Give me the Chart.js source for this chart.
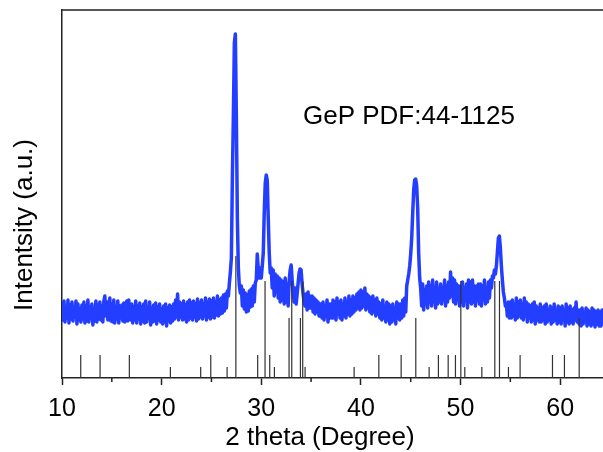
<!DOCTYPE html>
<html>
<head>
<meta charset="utf-8">
<script src="https://cdn.jsdelivr.net/npm/chart.js@4/dist/chart.umd.min.js"></script>
<style>
  html, body { margin: 0; padding: 0; background: #fff; }
  canvas { display: block; }
</style>
</head>
<body>
<canvas id="xrd" width="603" height="452"></canvas>
<script>
// measured pattern, one value every 0.1 degree from 10.0 to 64.3
const thetaStart = 10;
const thetaStep = 0.1;
const intensity = [
  74,58,77,56,71,60,78,55,73,59,   // 10
  76,57,70,61,77,54,74,58,69,56,   // 11
  73,59,76,55,72,57,78,56,71,60,   // 12
  74,53,69,57,77,56,73,59,76,58,   // 13
  72,56,77,82,62,76,58,73,80,57,   // 14
  74,56,78,55,71,59,77,55,72,60,   // 15
  73,57,75,56,70,77,57,78,60,58,   // 16
  74,55,71,58,77,55,72,59,75,54,   // 17
  71,57,74,55,77,56,70,60,76,53,   // 18
  70,56,73,57,75,54,71,58,74,56,   // 19
  69,54,72,56,74,52,70,57,73,55,   // 20
  71,57,74,59,78,61,84,58,76,61,   // 21
  74,58,77,59,73,56,76,58,78,60,   // 22
  75,58,77,61,74,57,79,59,75,61,   // 23
  78,59,74,62,80,58,76,61,79,59,   // 24
  77,61,80,60,76,63,82,62,78,64,   // 25
  80,65,83,67,84,70,87,82,95,106,  // 26
  120,200,262,335,344,262,160,110,92,85, // 27
  92,72,88,69,85,66,83,67,87,71,   // 28
  89,72,92,76,95,98,124,108,100,110, // 29
  100,112,125,165,195,203,198,160,125,105, // 30
  110,90,108,82,104,86,102,80,100,76, // 31
  98,78,96,74,100,76,94,72,97,108, // 32
  113,98,86,76,90,74,84,95,105,109, // 33
  108,94,84,76,72,84,68,86,70,82,  // 34
  70,82,66,80,64,78,66,76,62,74,   // 35
  74,60,76,58,72,62,78,56,74,60,   // 36
  74,60,78,62,76,58,80,64,76,60,   // 37
  78,58,74,62,80,60,76,64,82,62,   // 38
  78,64,82,66,80,68,84,70,86,68,   // 39
  88,70,86,72,90,68,84,70,82,66,   // 40
  80,64,82,66,78,62,80,64,76,60,   // 41
  74,58,78,60,72,56,76,58,74,54,   // 42
  72,56,74,58,70,54,76,60,74,58,   // 43
  74,60,78,62,80,66,92,98,104,112, // 44
  124,140,165,188,198,199,192,170,125,100, // 45
  90,72,94,68,88,74,92,70,96,76,   // 46
  92,72,98,76,90,70,96,74,88,76,   // 47
  94,74,90,78,98,72,92,76,96,80,   // 48
  106,82,100,76,98,74,94,78,92,72, // 49
  92,76,96,72,90,78,94,70,98,76,   // 50
  96,74,98,76,92,72,92,78,94,74,   // 51
  94,72,92,78,98,74,90,76,96,80,   // 52
  98,90,102,100,108,104,112,126,140,142, // 53
  130,112,98,86,80,72,74,62,76,60, // 54
  76,60,78,62,74,58,80,60,76,62,   // 55
  78,60,74,58,80,62,76,56,74,60,   // 56
  72,56,74,58,76,54,72,58,70,56,   // 57
  74,56,70,58,72,54,74,56,68,58,   // 58
  72,54,70,56,74,58,68,54,72,56,   // 59
  70,54,72,58,68,52,74,56,70,54,   // 60
  72,56,68,54,70,58,76,56,68,54,   // 61
  68,52,70,54,66,56,70,52,68,54,   // 62
  66,52,70,54,68,51,66,54,68,52,   // 63
  66,52,68,54                      // 64.0 - 64.3
];

// GeP reference lines (PDF 44-1125)
const refPositions = [11.88, 13.82, 16.76, 20.88, 23.92, 24.93, 26.57, 27.45, 29.64, 30.38,
  30.85, 31.32, 32.79, 33.06, 33.93, 34.16, 34.40, 39.32, 41.80, 44.04,
  45.51, 46.85, 47.78, 48.76, 49.49, 50.03, 50.43, 52.14, 53.44, 53.91,
  54.81, 55.98, 59.23, 60.43, 61.91];
const refHeights = [23, 23, 23, 11, 11, 23, 11, 122, 23, 97,
  23, 11, 60, 97, 60, 97, 11, 11, 23, 23,
  60, 11, 23, 23, 23, 97, 11, 11, 97, 97,
  11, 23, 23, 23, 60];

const majorTicks = [10, 20, 30, 40, 50, 60];
const minorTicks = [15, 25, 35, 45, 55];

const FONT = "'Liberation Sans', Arial, Helvetica, sans-serif";
const AXIS = '#222';

const patternData = intensity.map((v, i) => ({ x: +(thetaStart + i * thetaStep).toFixed(1), y: v }));

const stickData = [];
refPositions.forEach((p, i) => {
  stickData.push({ x: p, y: 0 }, { x: p, y: refHeights[i] }, { x: p, y: null });
});

// top frame line, minor ticks and the free texts
const decorations = {
  id: 'decorations',
  afterDraw(chart) {
    const { ctx, chartArea } = chart;
    const xs = chart.scales.x;
    ctx.save();
    ctx.strokeStyle = AXIS;
    ctx.lineWidth = 1.5;
    ctx.beginPath();
    ctx.moveTo(chartArea.left - 0.75, chartArea.top);
    ctx.lineTo(chartArea.right, chartArea.top);
    minorTicks.forEach(v => {
      const px = xs.getPixelForValue(v);
      ctx.moveTo(px, chartArea.bottom);
      ctx.lineTo(px, chartArea.bottom + 4);
    });
    ctx.stroke();

    ctx.fillStyle = '#000';
    ctx.font = '26px ' + FONT;
    ctx.textBaseline = 'alphabetic';
    ctx.textAlign = 'left';
    ctx.fillText('GeP PDF:44-1125', 303, 124);

    ctx.textAlign = 'center';
    ctx.fillText('2 theta (Degree)', 320, 445);

    ctx.translate(32, 225);
    ctx.rotate(-Math.PI / 2);
    ctx.fillText('Intentsity (a.u.)', 0, 0);
    ctx.restore();
  }
};

new Chart(document.getElementById('xrd'), {
  type: 'scatter',
  data: {
    datasets: [
      {
        label: 'PDF 44-1125',
        data: stickData,
        showLine: true,
        spanGaps: false,
        borderColor: '#333',
        borderWidth: 1.2,
        pointRadius: 0,
        order: 0
      },
      {
        label: 'GeP',
        data: patternData,
        showLine: true,
        borderColor: 'rgb(36,62,255)',
        borderWidth: 3.5,
        borderJoinStyle: 'round',
        borderCapStyle: 'round',
        pointRadius: 0,
        tension: 0,
        order: 1
      }
    ]
  },
  options: {
    responsive: false,
    animation: false,
    devicePixelRatio: 1,
    layout: { padding: { left: 62, top: 10, right: 0, bottom: 0 } },
    plugins: {
      legend: { display: false },
      tooltip: { enabled: false },
      title: { display: false }
    },
    scales: {
      x: {
        type: 'linear',
        min: 10,
        max: 64.3,
        afterBuildTicks: s => { s.ticks = majorTicks.map(v => ({ value: v })); },
        afterFit: s => { s.height = 74; },
        ticks: {
          color: '#000',
          padding: 9,
          maxRotation: 0,
          font: { family: FONT, size: 25 }
        },
        grid: {
          drawOnChartArea: false,
          drawTicks: true,
          tickLength: 7,
          tickColor: AXIS,
          tickWidth: 1.5
        },
        border: { display: true, color: AXIS, width: 1.5 }
      },
      y: {
        min: 0,
        max: 368,
        afterFit: s => { s.width = 0; },
        ticks: { display: false },
        grid: { display: false, drawTicks: false },
        border: { display: true, color: AXIS, width: 1.5 }
      }
    }
  },
  plugins: [decorations]
});
</script>
</body>
</html>
